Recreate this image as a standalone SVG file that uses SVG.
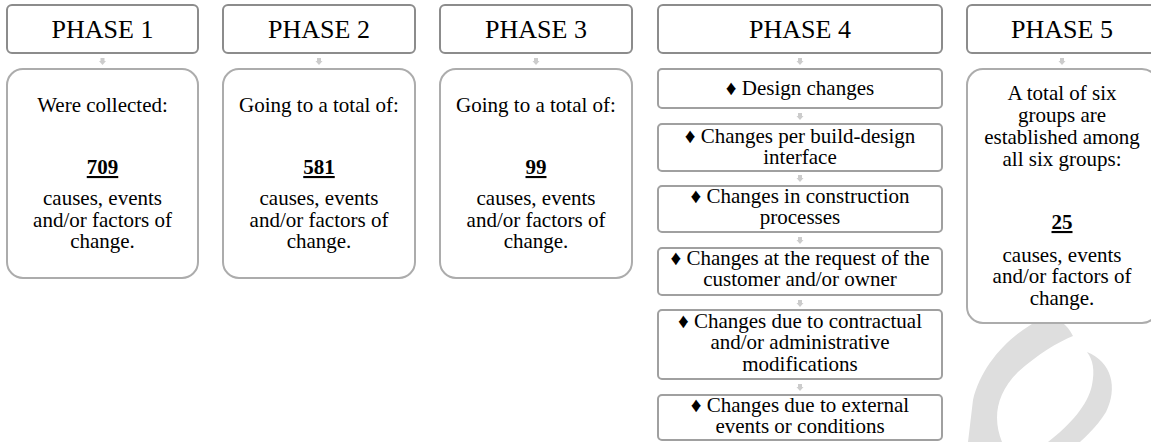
<svg xmlns="http://www.w3.org/2000/svg" width="1151" height="442" viewBox="0 0 1151 442" font-family="'Liberation Serif', 'Times New Roman', 'DejaVu Serif', serif">
<style>
.hdr{fill:#fff;stroke:#8c8c8c;stroke-width:2}
.box{fill:#fff;stroke:#acacac;stroke-width:2}
.item{fill:#fff;stroke:#a0a0a0;stroke-width:2}
text{fill:#000;text-anchor:middle}
.h{font-size:26px}
.t{font-size:21px}
.n{font-size:21px;font-weight:bold;text-decoration:underline}
.arr{fill:#cccccc}
.wm{fill:#dedede}
</style>
<defs>
<path id="ar" d="M-2,0 H2 V3 H3.5 L0,7 L-3.5,3 H-2 Z"/>
</defs>
<g id="watermark">
<path class="wm" d="M1048,316 C1014,330 982,362 973,400 L968,442 L1002,442 C993,420 995,395 1018,372 C1038,354 1058,342 1073,336 C1067,324 1058,318 1048,316 Z"/>
<path class="wm" d="M1087,352 C1112,362 1118,388 1106,412 C1096,428 1084,438 1080,442 L1048,442 C1070,425 1088,405 1092,385 C1095,370 1093,360 1087,352 Z"/>
</g>
<g id="connectors">
<use href="#ar" class="arr" x="102.5" y="58"/>
<use href="#ar" class="arr" x="319" y="58"/>
<use href="#ar" class="arr" x="536" y="58"/>
<use href="#ar" class="arr" x="800" y="58"/>
<use href="#ar" class="arr" x="800" y="113"/>
<use href="#ar" class="arr" x="800" y="175"/>
<use href="#ar" class="arr" x="800" y="237"/>
<use href="#ar" class="arr" x="800" y="300"/>
<use href="#ar" class="arr" x="800" y="384"/>
<use href="#ar" class="arr" x="1062" y="58"/>
</g>
<g id="phase1">
<rect class="hdr" x="7" y="5" width="191" height="48" rx="5"/>
<text class="h" x="102.5" y="38">PHASE 1</text>
</g>
<g id="phase1-content">
<rect class="box" x="7" y="69" width="191" height="209" rx="16"/>
<text class="t" x="102.5" y="112">Were collected:</text>
<text class="n" x="102.5" y="174">709</text>
<text class="t" x="102.5" y="205">causes, events</text>
<text class="t" x="102.5" y="227">and/or factors of</text>
<text class="t" x="102.5" y="248">change.</text>
</g>
<g id="phase2">
<rect class="hdr" x="223" y="5" width="192" height="48" rx="5"/>
<text class="h" x="319" y="38">PHASE 2</text>
</g>
<g id="phase2-content">
<rect class="box" x="223" y="69" width="192" height="209" rx="16"/>
<text class="t" x="319" y="112">Going to a total of:</text>
<text class="n" x="319" y="174">581</text>
<text class="t" x="319" y="205">causes, events</text>
<text class="t" x="319" y="227">and/or factors of</text>
<text class="t" x="319" y="248">change.</text>
</g>
<g id="phase3">
<rect class="hdr" x="440" y="5" width="192" height="48" rx="5"/>
<text class="h" x="536" y="38">PHASE 3</text>
</g>
<g id="phase3-content">
<rect class="box" x="440" y="69" width="192" height="209" rx="16"/>
<text class="t" x="536" y="112">Going to a total of:</text>
<text class="n" x="536" y="174">99</text>
<text class="t" x="536" y="205">causes, events</text>
<text class="t" x="536" y="227">and/or factors of</text>
<text class="t" x="536" y="248">change.</text>
</g>
<g id="phase4">
<rect class="hdr" x="658" y="5" width="284" height="48" rx="5"/>
<text class="h" x="800" y="38">PHASE 4</text>
</g>
<g id="phase4-item1">
<rect class="item" x="658" y="69" width="284" height="39" rx="4"/>
<text class="t" x="800" y="95">♦ Design changes</text>
</g>
<g id="phase4-item2">
<rect class="item" x="658" y="124" width="284" height="47" rx="4"/>
<text class="t" x="800" y="143">♦ Changes per build-design</text>
<text class="t" x="800" y="164">interface</text>
</g>
<g id="phase4-item3">
<rect class="item" x="658" y="186" width="284" height="46" rx="4"/>
<text class="t" x="800" y="203">♦ Changes in construction</text>
<text class="t" x="800" y="224">processes</text>
</g>
<g id="phase4-item4">
<rect class="item" x="658" y="248" width="284" height="47" rx="4"/>
<text class="t" x="800" y="265">♦ Changes at the request of the</text>
<text class="t" x="800" y="286">customer and/or owner</text>
</g>
<g id="phase4-item5">
<rect class="item" x="658" y="310" width="284" height="69" rx="4"/>
<text class="t" x="800" y="328">♦ Changes due to contractual</text>
<text class="t" x="800" y="349">and/or administrative</text>
<text class="t" x="800" y="371">modifications</text>
</g>
<g id="phase4-item6">
<rect class="item" x="658" y="395" width="284" height="45" rx="4"/>
<text class="t" x="800" y="412">♦ Changes due to external</text>
<text class="t" x="800" y="433">events or conditions</text>
</g>
<g id="phase5">
<rect class="hdr" x="967" y="5" width="191" height="48" rx="5"/>
<text class="h" x="1062" y="38">PHASE 5</text>
</g>
<g id="phase5-content">
<rect class="box" x="967" y="69" width="191" height="254" rx="16"/>
<text class="t" x="1062" y="100">A total of six</text>
<text class="t" x="1062" y="122">groups are</text>
<text class="t" x="1062" y="144">established among</text>
<text class="t" x="1062" y="166">all six groups:</text>
<text class="n" x="1062" y="229">25</text>
<text class="t" x="1062" y="262">causes, events</text>
<text class="t" x="1062" y="283">and/or factors of</text>
<text class="t" x="1062" y="305">change.</text>
</g>
</svg>
